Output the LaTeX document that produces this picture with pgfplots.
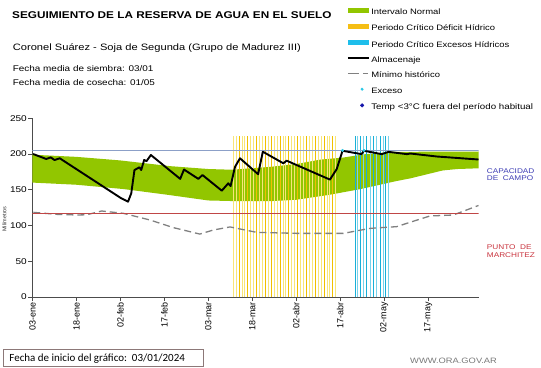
\documentclass[border=0pt]{standalone}
\usepackage{fontspec}
\setmainfont{Liberation Sans}[FakeStretch=1.2]
\newfontfamily\plainfont{Liberation Sans}
\newfontfamily\calibri{Carlito}
\usepackage{pgfplots}
\pgfplotsset{compat=1.18}
\definecolor{bandgreen}{RGB}{146,198,0}
\definecolor{paleyel}{RGB}{248,230,120}
\definecolor{goldyel}{RGB}{240,192,0}
\definecolor{legyel}{RGB}{245,190,20}
\definecolor{cyanlt}{RGB}{120,210,235}
\definecolor{cyandk}{RGB}{25,175,215}
\definecolor{legcyan}{RGB}{30,190,235}
\definecolor{capblue}{RGB}{140,160,200}
\definecolor{pmred}{RGB}{192,70,70}
\definecolor{capcol}{RGB}{60,60,180}
\definecolor{pmcol}{RGB}{200,50,60}
\definecolor{boxborder}{RGB}{140,120,120}
\definecolor{webgray}{RGB}{120,120,120}
\definecolor{exccyan}{RGB}{40,200,230}
\definecolor{tempblue}{RGB}{20,20,170}
\begin{document}
\begin{tikzpicture}
\begin{axis}[
  at={(0,0)}, anchor=south west,
  scale only axis, width=446bp, height=178.75bp,
  xmin=0, xmax=152.2, ymin=0, ymax=250,
  axis x line*=bottom, axis y line*=left,
  axis line style={black!70, line width=0.8bp},
  tick align=outside, major tick length=4bp,
  tick style={black!70, line width=0.6bp},
  xtick={0,15,30,45,60,75,90,105,120,135},
  xticklabels={03-ene,18-ene,02-feb,17-feb,03-mar,18-mar,02-abr,17-abr,02-may,17-may},
  xticklabel style={rotate=90, anchor=east, font=\plainfont\fontsize{9}{10}\selectfont, inner sep=1bp},
  ytick={0,50,100,150,200,250},
  yticklabel style={font=\fontsize{8.4}{10}\selectfont, inner sep=1.5bp},
  /pgf/number format/assume math mode=true,
  legend style={at={(0.7045,1.6196)}, anchor=north west, draw=none, fill=none,
    inner sep=0pt, row sep=8.2bp, column sep=1bp,
    font=\fontsize{7.9}{8.5}\selectfont,
    nodes={inner sep=0pt, text height=5.6bp, text depth=1.6bp}},
  legend cell align=left,
]
% Intervalo normal band
\addplot[fill=bandgreen, draw=none, forget plot] coordinates {
 (0,199) (15,196) (30,191) (47,183) (60,179) (68,178) (81,182) (90,186) (98,192)
 (106,195) (113,199.5) (123,203) (152.2,203.5)
 (152.2,180) (145,179) (140,177) (136,173) (129,166) (124,162) (112,151) (101,142.7)
 (90,136) (81,134) (70,134) (60,135) (46,143) (31,151) (15,157) (0,160)
} -- cycle;
% Periodo critico deficit
\addplot[ycomb, draw=paleyel, line width=1bp, mark=none, forget plot] coordinates {
 (68.5,225) (69.5,225) (71.5,225) (72.5,225) (74.5,225) (75.5,225) (77.5,225) (78.5,225)
 (80.5,225) (82.5,225) (83.5,225) (85.5,225) (86.5,225) (88.5,225) (89.5,225) (91.5,225)
 (92.5,225) (94.5,225) (95.5,225) (97.5,225) (98.5,225) (100.5,225) (101.5,225) (103.5,225)
};
\addplot[ycomb, draw=goldyel, line width=0.9bp, mark=none, forget plot] coordinates {
 (70.5,225) (73.5,225) (76.5,225) (79.5,225) (81.5,225) (84.5,225) (87.5,225) (90.5,225)
 (93.5,225) (96.5,225) (99.5,225) (102.5,225)
};
% Periodo critico excesos
\addplot[ycomb, draw=cyanlt, line width=1bp, mark=none, forget plot] coordinates {
 (110.9,225) (113.0,225) (115.2,225) (117.5,225) (119.7,225) (121.4,225)
};
\addplot[ycomb, draw=cyandk, line width=0.9bp, mark=none, forget plot] coordinates {
 (110.1,225) (111.8,225) (114.1,225) (116.3,225) (118.8,225) (120.6,225)
};
% Minimo historico
\addplot[gray, line width=1.3bp, dash pattern=on 7bp off 4bp, forget plot] coordinates {
 (0.3,118.4) (8.3,115.6) (15.1,114.7) (18.5,115) (23.6,120.3) (31,117) (40.1,107.7)
 (48.1,97) (57.1,88) (61.7,93.7) (67.4,98) (76.5,90.4) (90.2,89) (106.1,89) (115.2,96)
 (124.3,98.4) (127.7,103) (135.6,113.3) (143.6,114.7) (152.2,128)
};
% Punto de marchitez
\addplot[pmred, line width=0.8bp, forget plot] coordinates {(0,117) (152.2,117)};
% Capacidad de campo
\addplot[capblue, line width=0.9bp, forget plot] coordinates {(0,205) (152.2,205)};
% Almacenaje
\addplot[black, line width=1.9bp, line join=round, forget plot] coordinates {
 (0.2,200) (4.7,193) (6.2,195.3) (7.5,191.6) (9.3,194) (30.3,138) (32.6,133.3)
 (33.7,145) (34.8,177.6) (36.5,181.4) (37.1,177.6) (38.1,191.6) (38.9,190) (40.4,198.6)
 (50.4,165.2) (51.7,178.3) (56.6,165.2) (58.0,170.6) (64.6,148.7) (66.8,159) (67.6,155.2)
 (69.1,182) (70.8,194) (77.0,171.7) (78.6,203.2) (85.6,187) (86.7,190.7) (101.5,164.2)
 (103.8,178.8) (105.8,204.5) (112.3,199.8) (113.1,204.5) (119.2,199.8) (121.5,203.0)
 (127.8,199.8) (128.9,200.7) (138,196.5) (152.2,192.3)
};
% Exceso
\addplot[only marks, mark=*, mark size=1.3bp, exccyan, forget plot] coordinates {(105.8,205) (113.1,205)};
% legend
\addlegendimage{legend image code/.code={\fill[bandgreen] (0bp,0.4bp) rectangle (20bp,4.4bp); \path (0,0) (21.6bp,0);}}
\addlegendentry{Intervalo Normal}
\addlegendimage{legend image code/.code={\fill[legyel] (0bp,0.4bp) rectangle (20bp,4.4bp); \path (0,0) (21.6bp,0);}}
\addlegendentry{Periodo Crítico Déficit Hídrico}
\addlegendimage{legend image code/.code={\fill[legcyan] (0bp,0.4bp) rectangle (20bp,4.4bp); \path (0,0) (21.6bp,0);}}
\addlegendentry{Periodo Crítico Excesos Hídricos}
\addlegendimage{legend image code/.code={\draw[black, line width=1.8bp] (0bp,2.4bp) -- (21.6bp,2.4bp);}}
\addlegendentry{Almacenaje}
\addlegendimage{legend image code/.code={\draw[gray, line width=1.4bp] (0bp,2.4bp) -- (11.6bp,2.4bp) (15bp,2.4bp) -- (20bp,2.4bp); \path (0,0) (21.6bp,0);}}
\addlegendentry{Mínimo histórico}
\addlegendimage{legend image code/.code={\fill[exccyan] (14.3bp,2.4bp) circle (1.3bp); \path (0,0) (21.6bp,0);}}
\addlegendentry{Exceso}
\addlegendimage{legend image code/.code={\fill[tempblue] (14.3bp,4.2bp) -- (16.1bp,2.4bp) -- (14.3bp,0.6bp) -- (12.5bp,2.4bp) -- cycle; \path (0,0) (21.6bp,0);}}
\addlegendentry{\fontsize{8.15}{9}\selectfont Temp <3°C fuera del período habitual}
\end{axis}
% texts
\node[anchor=base west, inner sep=0pt, font=\fontsize{9.85}{12}\selectfont\bfseries] at (-20.5bp,278bp) {SEGUIMIENTO DE LA RESERVA DE AGUA EN EL SUELO};
\node[anchor=base west, inner sep=0pt, font=\fontsize{9.3}{11}\selectfont] at (-19.8bp,246.3bp) {Coronel Suárez - Soja de Segunda (Grupo de Madurez III)};
\node[anchor=base west, inner sep=0pt, font=\fontsize{8.3}{10}\selectfont] at (-19.8bp,225.3bp) {Fecha media de siembra: 03/01};
\node[anchor=base west, inner sep=0pt, font=\fontsize{8.3}{10}\selectfont] at (-19.8bp,211.5bp) {Fecha media de cosecha: 01/05};
\node[anchor=base west, inner sep=0pt, text=capcol, font=\fontsize{6.9}{8}\selectfont] at (454.2bp,123.7bp) {CAPACIDAD};
\node[anchor=base west, inner sep=0pt, text=capcol, font=\fontsize{6.9}{8}\selectfont] at (454.2bp,116bp) {DE\ \ CAMPO};
\node[anchor=base west, inner sep=0pt, text=pmcol, font=\fontsize{6.9}{8}\selectfont] at (454.2bp,47.7bp) {PUNTO\ \ DE};
\node[anchor=base west, inner sep=0pt, text=pmcol, font=\fontsize{6.9}{8}\selectfont] at (454.2bp,39.7bp) {MARCHITEZ};
\node[rotate=90, inner sep=0pt, text=black!80, font=\plainfont\fontsize{5.5}{6}\selectfont] at (-28bp,78bp) {Milímetros};
\draw[boxborder, line width=0.8bp] (-29.2bp,-52.3bp) rectangle (170.8bp,-69.7bp);
\node[anchor=base west, inner sep=0pt, font=\calibri\fontsize{11}{12}\selectfont] at (-23.2bp,-64bp) {Fecha de inicio del gráfico:\ \ 03/01/2024};
\node[anchor=base west, inner sep=0pt, text=webgray, font=\fontsize{7.8}{9}\selectfont] at (377.5bp,-66.3bp) {WWW.ORA.GOV.AR};
\pgfresetboundingbox
\path (-32.5bp,-71bp) rectangle (508.5bp,297bp);
\end{tikzpicture}
\end{document}
